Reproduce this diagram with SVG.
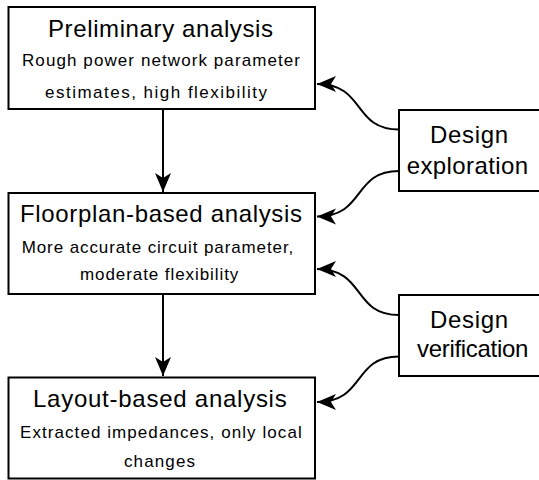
<svg xmlns="http://www.w3.org/2000/svg" width="539" height="480" viewBox="0 0 539 480">
<style>
.box{fill:#fff;stroke:#000;stroke-width:2}
.t{font-family:"Liberation Sans",Arial,sans-serif;fill:#000}
.h{font-size:24px}
.s{font-size:17px}
.c{fill:none;stroke:#000;stroke-width:2}
</style>
<defs>
<marker id="ah" markerUnits="userSpaceOnUse" markerWidth="22" markerHeight="20" viewBox="0 -10 22 20" refX="19" refY="0" orient="auto">
<path d="M0,-8 L19,0 L0,8 L5,0 z" fill="#000"/>
</marker>
</defs>
<rect width="539" height="480" fill="#fff"/>
<g id="connectors">
<path class="c" d="M163,109 L163,192" marker-end="url(#ah)"/>
<path class="c" d="M163,294 L163,376" marker-end="url(#ah)"/>
<path class="c" d="M399,129.5 C352,129.5 366,84 317,84" marker-end="url(#ah)"/>
<path class="c" d="M399,171 C352,171 366,216.5 317,216.5" marker-end="url(#ah)"/>
<path class="c" d="M399,315 C352,315 366,269 317,269" marker-end="url(#ah)"/>
<path class="c" d="M399,356.5 C352,356.5 366,402 317,402" marker-end="url(#ah)"/>
</g>
<g id="preliminary">
<rect class="box" x="8.5" y="7" width="306.5" height="102"/>
<text class="t h" x="48" y="36.5" textLength="225" lengthAdjust="spacing">Preliminary analysis</text>
<text class="t s" x="22" y="66" textLength="278" lengthAdjust="spacing">Rough power network parameter</text>
<text class="t s" x="45" y="98" textLength="222" lengthAdjust="spacing">estimates, high flexibility</text>
</g>
<g id="floorplan">
<rect class="box" x="8.5" y="193" width="306.5" height="101"/>
<text class="t h" x="20" y="221.7" textLength="282" lengthAdjust="spacing">Floorplan-based analysis</text>
<text class="t s" x="21.7" y="253.3" textLength="271.6" lengthAdjust="spacing">More accurate circuit parameter,</text>
<text class="t s" x="80" y="280" textLength="158.3" lengthAdjust="spacing">moderate flexibility</text>
</g>
<g id="layout">
<rect class="box" x="8.5" y="377.5" width="306.5" height="101"/>
<text class="t h" x="33" y="406.7" textLength="253.7" lengthAdjust="spacing">Layout-based analysis</text>
<text class="t s" x="20" y="438.3" textLength="281.7" lengthAdjust="spacing">Extracted impedances, only local</text>
<text class="t s" x="124" y="466.7" textLength="71" lengthAdjust="spacing">changes</text>
</g>
<g id="exploration">
<rect class="box" x="399" y="110" width="150" height="81"/>
<text class="t h" x="430" y="143.3" textLength="78" lengthAdjust="spacing">Design</text>
<text class="t h" x="406.7" y="174" textLength="121.3" lengthAdjust="spacing">exploration</text>
</g>
<g id="verification">
<rect class="box" x="399" y="295" width="150" height="81"/>
<text class="t h" x="430" y="327.7" textLength="78" lengthAdjust="spacing">Design</text>
<text class="t h" x="417" y="356.7" textLength="111.3" lengthAdjust="spacing">verification</text>
</g>
</svg>
